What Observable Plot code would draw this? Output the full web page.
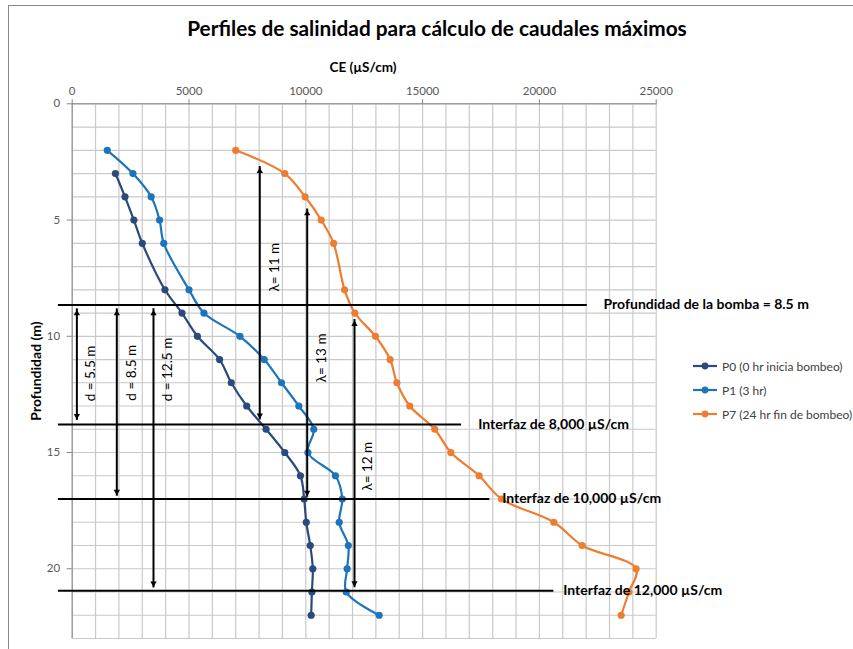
<!DOCTYPE html>
<html>
<head>
<meta charset="utf-8">
<script src="https://cdn.jsdelivr.net/npm/d3@7"></script>
<script src="https://cdn.jsdelivr.net/npm/@observablehq/plot@0.6"></script>
<style>
  body { margin: 0; background: #fff; font-family: Lato, "Open Sans", sans-serif; }
  #wrap { position: relative; width: 853px; height: 649px; overflow: hidden; }
  #frame { position: absolute; left: 8px; top: 5px; width: 900px; height: 700px; border-left: 1px solid #898989; border-top: 1px solid #898989; }
  #chart { position: absolute; left: 0; top: 0; }
  #title { position: absolute; left: 0; width: 874px; top: 15px; text-align: center; font-weight: bold; font-size: 20.8px; color: #000; }
  #xtitle { position: absolute; left: 263px; width: 200px; top: 59px; text-align: center; font-weight: bold; font-size: 13.5px; color: #000; }
  #ytitle { position: absolute; left: 35px; top: 371px; transform: translate(-50%, -50%) rotate(-90deg); white-space: nowrap; font-weight: bold; font-size: 14px; color: #000; }
  #legend { position: absolute; left: 693px; top: 354px; font-size: 12px; color: #404040; }
  .item { display: flex; align-items: center; height: 24.2px; }
  .item svg { margin-right: 5px; }
</style>
</head>
<body>
<div id="wrap">
  <div id="frame"></div>
  <div id="chart"></div>
  <div id="title">Perfiles de salinidad para cálculo de caudales máximos</div>
  <div id="xtitle">CE (µS/cm)</div>
  <div id="ytitle">Profundidad (m)</div>
  <div id="legend"></div>
</div>
<script>
// ---- data ----
const seriesNames = ["P0 (0 hr inicia bombeo)", "P1 (3 hr)", "P7 (24 hr fin de bombeo)"];
const seriesColors = ["#2A4A7C", "#1C75BC", "#ED7D31"];

const depthsP0 = [3, 4, 5, 6, 8, 9, 10, 11, 12, 13, 14, 15, 16, 17, 18, 19, 20, 21, 22];
const ceP0 = [1850, 2260, 2640, 3000, 3970, 4700, 5360, 6310, 6810, 7470, 8300, 9100, 9770, 9930, 10020, 10190, 10300, 10260, 10230];

const depthsP1 = [2, 3, 4, 5, 6, 8, 9, 10, 11, 12, 13, 14, 15, 16, 17, 18, 19, 20, 21, 22];
const ceP1 = [1500, 2600, 3380, 3740, 3920, 5000, 5640, 7180, 8220, 8960, 9700, 10340, 10090, 11270, 11560, 11430, 11820, 11770, 11730, 13140];

const depthsP7 = [2, 3, 4, 5, 6, 8, 9, 10, 11, 12, 13, 14, 15, 16, 17, 18, 19, 20, 21, 22];
const ceP7 = [7000, 9100, 9970, 10660, 11190, 11660, 12100, 12980, 13610, 13900, 14450, 15520, 16210, 17420, 18380, 20620, 21830, 24140, 23830, 23500];

const xTicks = [0, 5000, 10000, 15000, 20000, 25000];
const yTicks = [0, 5, 10, 15, 20];

// horizontal reference lines (depth, CE start, CE end) and labels
const hLineDepth = [8.65, 13.8, 17.0, 20.95];
const hLineStart = [-590, -590, -590, -590];
const hLineEnd = [22050, 16670, 17880, 20620];
const hLabels = ["Profundidad de la bomba = 8.5 m", "Interfaz de 8,000 µS/cm", "Interfaz de 10,000 µS/cm", "Interfaz de 12,000 µS/cm"];
const hLabelCE = [22745, 17380, 18405, 21020];

// vertical double arrows
const arrowLabels = ["d = 5.5 m", "d = 8.5 m", "d = 12.5 m", "λ= 11 m", "λ= 13 m", "λ= 12 m"];
const arrowCE = [200, 1910, 3480, 8030, 10060, 12085];
const arrowTop = [8.82, 8.82, 8.82, 2.70, 4.52, 9.28];
const arrowBottom = [13.62, 16.88, 20.83, 13.6, 16.92, 20.82];
const arrowLabelCE = [810, 2525, 4095, 8660, 10660, 12655];
const arrowLabelDepth = [11.6, 11.57, 11.43, 7.03, 10.93, 15.59];

// ---- build tables ----
const allDepths = [depthsP0, depthsP1, depthsP7];
const allCE = [ceP0, ceP1, ceP7];
const rows = seriesNames.flatMap((s, k) => allDepths[k].map((d, i) => ({serie: s, depth: d, ce: allCE[k][i]})));
const hLines = hLineDepth.map((d, i) => ({depth: d, x1: hLineStart[i], x2: hLineEnd[i], label: hLabels[i], lx: hLabelCE[i]}));
const arrows = arrowLabels.map((l, i) => ({label: l, ce: arrowCE[i], top: arrowTop[i], bottom: arrowBottom[i], lx: arrowLabelCE[i], ly: arrowLabelDepth[i]}));

const gridColor = "#c9c9c9";
const axisColor = "#868686";
const triR = 3;
const triOff = 2 * Math.sqrt((triR * triR * Math.PI) / (Math.sqrt(3) * 3));

const chart = Plot.plot({
  width: 853,
  height: 649,
  marginLeft: 71.7,
  marginTop: 103.3,
  marginRight: 197.3,
  marginBottom: 11,
  style: {fontFamily: "Lato, sans-serif", fontSize: "11px", background: "transparent", overflow: "visible"},
  x: {domain: [0, 25000]},
  y: {domain: [0, 23], reverse: true},
  color: {domain: seriesNames, range: seriesColors},
  marks: [
    Plot.gridX(d3.range(0, 25001, 1000), {stroke: gridColor, strokeOpacity: 1, strokeWidth: 1.2}),
    Plot.gridY(d3.range(0, 24, 1), {stroke: gridColor, strokeOpacity: 1, strokeWidth: 1.2}),
    Plot.ruleY([0], {x1: 0, x2: 25000, stroke: axisColor}),
    Plot.ruleX([0], {y1: 0, y2: 23, stroke: axisColor}),
    Plot.axisX({anchor: "top", ticks: xTicks, tickFormat: d3.format("d"), tickSize: 5, tickPadding: 4, stroke: axisColor, fill: "#595959", label: null, fontSize: 11.5}),
    Plot.axisY({anchor: "left", ticks: yTicks, tickSize: 5, tickPadding: 7, stroke: axisColor, fill: "#595959", label: null, fontSize: 11.5}),
    Plot.line(rows, {x: "ce", y: "depth", z: "serie", stroke: "serie", strokeWidth: 2.2, curve: "catmull-rom"}),
    Plot.dot(rows, {x: "ce", y: "depth", fill: "serie", r: 3.6}),
    Plot.ruleY(hLines, {y: "depth", x1: "x1", x2: "x2", stroke: "#000", strokeWidth: 2}),
    Plot.ruleX(arrows, {x: "ce", y1: "top", y2: "bottom", stroke: "#000", strokeWidth: 2}),
    Plot.dot(arrows, {x: "ce", y: "top", symbol: "triangle2", r: triR, fill: "#000", dy: triOff}),
    Plot.dot(arrows, {x: "ce", y: "bottom", symbol: "triangle2", r: triR, fill: "#000", rotate: 180, dy: -triOff}),
    Plot.text(arrows, {x: "lx", y: "ly", text: "label", rotate: -90, fontSize: 13.5, fill: "#000", textAnchor: "middle"}),
    Plot.text(hLines, {x: "lx", y: "depth", text: "label", textAnchor: "start", fontSize: 14, fontWeight: "bold", fill: "#000"})
  ]
});
document.getElementById("chart").appendChild(chart);

// ---- legend ----
const legend = document.getElementById("legend");
seriesNames.forEach((name, i) => {
  const item = document.createElement("div");
  item.className = "item";
  item.innerHTML = `<svg width="24" height="10"><line x1="0" x2="24" y1="5" y2="5" stroke="${seriesColors[i]}" stroke-width="2.2"/><circle cx="12" cy="5" r="3.4" fill="${seriesColors[i]}"/></svg><span>${name}</span>`;
  legend.appendChild(item);
});
</script>
</body>
</html>
